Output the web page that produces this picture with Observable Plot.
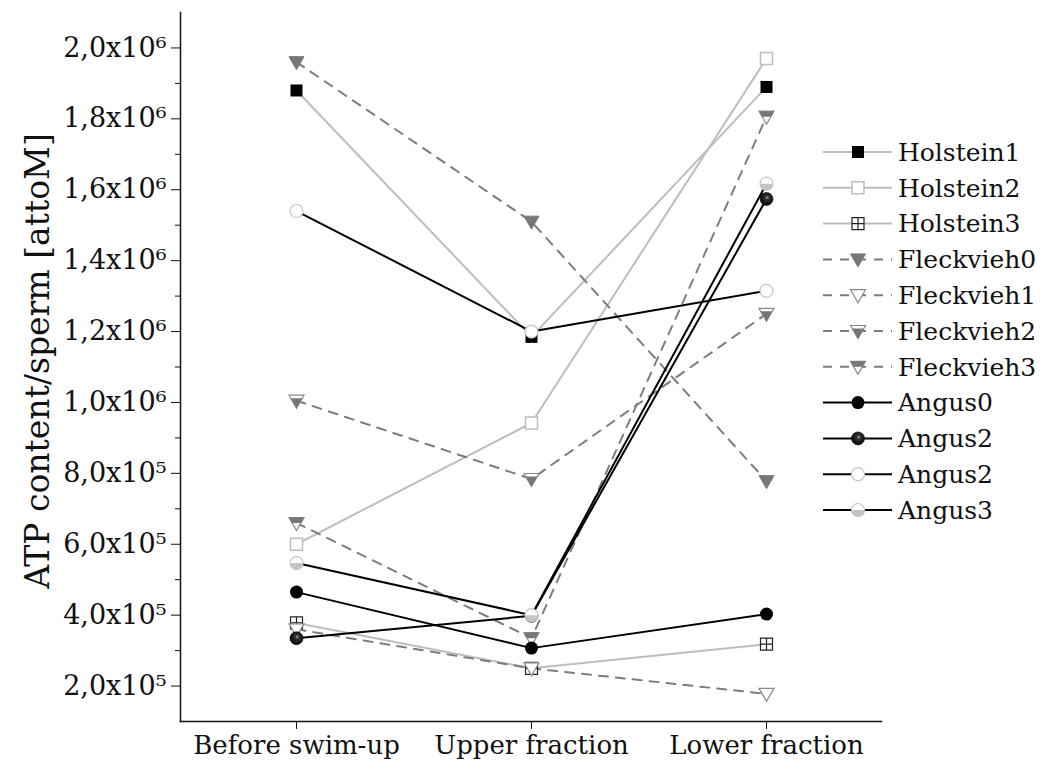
<!DOCTYPE html>
<html>
<head>
<meta charset="utf-8">
<script src="https://cdn.jsdelivr.net/npm/d3@7"></script>
<script src="https://cdn.jsdelivr.net/npm/@observablehq/plot@0.6"></script>
<style>
  html, body { margin: 0; padding: 0; background: #fff; }
  #chart { width: 1043px; height: 771px; }
</style>
</head>
<body>
<div id="chart"></div>
<script>
// ---------- data ----------
const categories = ["Before swim-up", "Upper fraction", "Lower fraction"];
const holstein1  = [1.88e6, 1.185e6, 1.89e6];
const holstein2  = [6.0e5, 9.42e5, 1.97e6];
const holstein3  = [3.78e5, 2.50e5, 3.18e5];
const fleckvieh0 = [1.96e6, 1.51e6, 7.78e5];
const fleckvieh1 = [3.60e5, 2.50e5, 1.78e5];
const fleckvieh2 = [1.005e6, 7.84e5, 1.25e6];
const fleckvieh3 = [6.6e5, 3.35e5, 1.806e6];
const angus0     = [4.65e5, 3.07e5, 4.03e5];
const angus2a    = [3.35e5, 3.98e5, 1.574e6];
const angus2b    = [1.54e6, 1.2e6, 1.315e6];
const angus3     = [5.47e5, 4.0e5, 1.617e6];
const seriesNames = ["Holstein1", "Holstein2", "Holstein3", "Fleckvieh0", "Fleckvieh1",
                     "Fleckvieh2", "Fleckvieh3", "Angus0", "Angus2", "Angus2", "Angus3"];
const yMajorTicks = [2e5, 4e5, 6e5, 8e5, 1e6, 1.2e6, 1.4e6, 1.6e6, 1.8e6, 2e6];
const yMinorTicks = [3e5, 5e5, 7e5, 9e5, 1.1e6, 1.3e6, 1.5e6, 1.7e6, 1.9e6];
const yTitle = "ATP content/sperm [attoM]";

// ---------- symbols ----------
const sym = fn => ({ draw(ctx) { fn(ctx); } });
const S = {
  square: sym(c => c.rect(-6, -6, 12, 12)),
  crossSquare: sym(c => { c.rect(-6, -6, 12, 12); c.moveTo(0, -6); c.lineTo(0, 6); c.moveTo(-6, 0); c.lineTo(6, 0); }),
  tri: sym(c => { c.moveTo(-7.5, -5.5); c.lineTo(7.5, -5.5); c.lineTo(0, 7.5); c.closePath(); }),
  triLow: sym(c => { c.moveTo(-5.77, -2.5); c.lineTo(5.77, -2.5); c.lineTo(0, 7.5); c.closePath(); }),
  triTop: sym(c => { c.moveTo(-7.5, -5.5); c.lineTo(7.5, -5.5); c.lineTo(4.33, 0); c.lineTo(-4.33, 0); c.closePath(); }),
  circle: sym(c => { c.moveTo(6.5, 0); c.arc(0, 0, 6.5, 0, 2 * Math.PI); c.closePath(); }),
  halfLow: sym(c => { c.moveTo(6.5, 0); c.arc(0, 0, 6.5, 0, Math.PI); c.closePath(); })
};

const lineStyles = {
  holstein: { stroke: "#bdbdbd", strokeWidth: 2 },
  fleck: { stroke: "#7d7d7d", strokeWidth: 2, strokeDasharray: "9,8" },
  angus: { stroke: "#000", strokeWidth: 2 }
};
const GT = "#777", LG = "#bdbdbd";
const series = [
  { values: holstein1, line: "holstein", marker: [{ symbol: S.square, fill: "#000", stroke: "none" }] },
  { values: holstein2, line: "holstein", marker: [{ symbol: S.square, fill: "#fff", stroke: LG, strokeWidth: 1.5 }] },
  { values: holstein3, line: "holstein", marker: [{ symbol: S.crossSquare, fill: "#fff", stroke: "#222", strokeWidth: 1.2 }] },
  { values: fleckvieh0, line: "fleck", marker: [{ symbol: S.tri, fill: GT, stroke: GT, strokeWidth: 1 }] },
  { values: fleckvieh1, line: "fleck", marker: [{ symbol: S.tri, fill: "#fff", stroke: "#888", strokeWidth: 1.2 }] },
  { values: fleckvieh2, line: "fleck", marker: [{ symbol: S.tri, fill: "#fff", stroke: "#888", strokeWidth: 1.2 }, { symbol: S.triLow, fill: GT, stroke: "none" }] },
  { values: fleckvieh3, line: "fleck", marker: [{ symbol: S.tri, fill: "#fff", stroke: "#888", strokeWidth: 1.2 }, { symbol: S.triTop, fill: GT, stroke: "none" }] },
  { values: angus0, line: "angus", marker: [{ symbol: S.circle, fill: "#000", stroke: "none" }] },
  { values: angus2a, line: "angus", marker: [{ symbol: S.circle, fill: "url(#ballGrad)", stroke: "#000", strokeWidth: 0.6 }] },
  { values: angus2b, line: "angus", marker: [{ symbol: S.circle, fill: "#fff", stroke: "#c4c4c4", strokeWidth: 1.2 }] },
  { values: angus3, line: "angus", marker: [{ symbol: S.circle, fill: "#fff", stroke: "#c4c4c4", strokeWidth: 1.2 }, { symbol: S.halfLow, fill: "#c4c4c4", stroke: "none" }] }
];

const rows = (vals, id) => categories.map((c, i) => ({ cat: c, v: vals[i], id }));

const sup = { 5: "\u2075", 6: "\u2076" };
const fmt = v => {
  const e = Math.floor(Math.log10(v) + 1e-9);
  const m = v / Math.pow(10, e);
  return m.toFixed(1).replace(".", ",") + "x10" + sup[e];
};

const FONT = "DejaVu Serif";
const marks = [];
series.forEach((s, k) => {
  marks.push(Plot.line(rows(s.values, k), { x: "cat", y: "v", ...lineStyles[s.line] }));
});
series.forEach((s, k) => {
  s.marker.forEach(m => {
    marks.push(Plot.dot(rows(s.values, k), { x: "cat", y: "v", r: 6, ...m }));
  });
});

const plot = Plot.plot({
  width: 1043,
  height: 771,
  marginLeft: 180,
  marginRight: 162,
  marginTop: 12,
  marginBottom: 50,
  style: { fontFamily: FONT, fontSize: "22px", color: "#111", background: "#fff", overflow: "visible" },
  x: { type: "point", domain: categories, padding: 0.49, label: null },
  y: { domain: [1e5, 2.1e6], label: null },
  marks: [
    Plot.axisX({ tickSize: 8, tickPadding: 6, fontSize: 26, label: null, stroke: "#111" }),
    Plot.axisY({ ticks: yMajorTicks, tickSize: 9, tickPadding: 5, tickFormat: fmt, fontSize: 27, label: null, stroke: "#111" }),
    Plot.axisY({ ticks: yMinorTicks, tickSize: 5, tickFormat: () => "", label: null, stroke: "#111" }),
    Plot.frame({ anchor: "left", stroke: "#111", strokeWidth: 1.5 }),
    Plot.frame({ anchor: "bottom", stroke: "#111", strokeWidth: 1.5 }),
    Plot.text([yTitle], { text: d => d, frameAnchor: "left", textAnchor: "middle", lineAnchor: "middle", dx: -142, dy: -6, rotate: -90, fontSize: 33, fill: "#111" }),
    ...marks
  ]
});

// gradient for shaded ball marker
const svg = d3.select(plot);
const grad = svg.insert("defs", ":first-child").append("radialGradient")
  .attr("id", "ballGrad").attr("cx", "55%").attr("cy", "40%").attr("r", "60%");
grad.append("stop").attr("offset", "0%").attr("stop-color", "#aaa");
grad.append("stop").attr("offset", "25%").attr("stop-color", "#333");
grad.append("stop").attr("offset", "100%").attr("stop-color", "#000");

// legend
const lg = svg.append("g").attr("font-family", FONT).attr("font-size", 25).attr("fill", "#111")
  .attr("text-anchor", "start");
series.forEach((s, k) => {
  const y = 152 + k * 35.8;
  const st = lineStyles[s.line];
  lg.append("line").attr("x1", 823).attr("x2", 892).attr("y1", y).attr("y2", y)
    .attr("stroke", st.stroke).attr("stroke-width", st.strokeWidth)
    .attr("stroke-dasharray", st.strokeDasharray || null);
  s.marker.forEach(m => {
    lg.append("path").attr("transform", `translate(858,${y})`)
      .attr("d", d3.symbol().type(m.symbol)())
      .attr("fill", m.fill).attr("stroke", m.stroke).attr("stroke-width", m.strokeWidth || 1);
  });
  lg.append("text").attr("x", 898).attr("y", y).attr("dy", "0.35em").attr("text-anchor", "start").text(seriesNames[k]);
});

document.getElementById("chart").appendChild(plot);
</script>
</body>
</html>
